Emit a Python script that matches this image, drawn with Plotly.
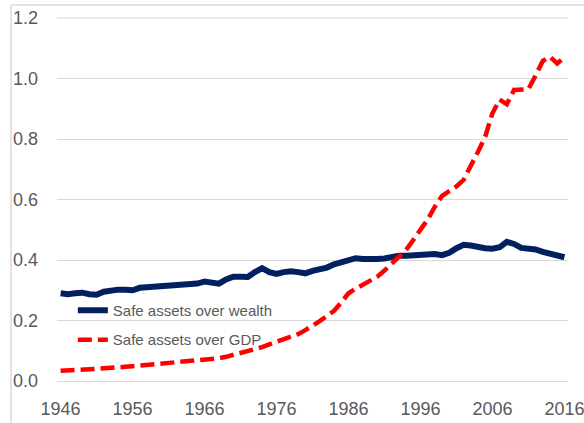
import plotly.graph_objects as go

years = list(range(1946, 2017))

safe_over_wealth = [
    0.290, 0.287, 0.290, 0.292, 0.287, 0.285, 0.295, 0.300, 0.302, 0.302,
    0.300, 0.308, 0.310, 0.310, 0.315, 0.314, 0.318, 0.322, 0.322, 0.322,
    0.329, 0.325, 0.322, 0.336, 0.345, 0.345, 0.344, 0.360, 0.373, 0.360,
    0.354, 0.360, 0.363, 0.360, 0.356, 0.364, 0.369, 0.375, 0.386, 0.393,
    0.400, 0.406, 0.403, 0.402, 0.403, 0.405, 0.410, 0.414, 0.414, 0.416,
    0.420, 0.420, 0.420, 0.416, 0.424, 0.439, 0.450, 0.448, 0.442, 0.439,
    0.437, 0.442, 0.460, 0.453, 0.440, 0.438, 0.435, 0.427, 0.421, 0.415,
    0.409,
]

safe_over_gdp = [
    0.034, 0.036, 0.037, 0.038, 0.039, 0.040, 0.041, 0.043, 0.045, 0.047,
    0.049, 0.051, 0.053, 0.055, 0.057, 0.059, 0.061, 0.063, 0.064, 0.066,
    0.068, 0.071, 0.075, 0.080, 0.086, 0.091, 0.097, 0.104, 0.112, 0.121,
    0.129, 0.137, 0.146, 0.155, 0.168, 0.182, 0.198, 0.215, 0.232, 0.260,
    0.290, 0.305, 0.318, 0.332, 0.345, 0.365, 0.389, 0.412, 0.433, 0.466,
    0.500, 0.534, 0.576, 0.612, 0.628, 0.643, 0.665, 0.708, 0.758, 0.808,
    0.885, 0.930, 0.915, 0.962, 0.963, 0.965, 1.010, 1.058, 1.072, 1.050,
    1.070,
]

x_ticks = [1946, 1956, 1966, 1976, 1986, 1996, 2006, 2016]
y_ticks = [0.0, 0.2, 0.4, 0.6, 0.8, 1.0, 1.2]
y_tick_labels = ["0.0", "0.2", "0.4", "0.6", "0.8", "1.0", "1.2"]

fig = go.Figure()
fig.add_trace(go.Scatter(
    x=years, y=safe_over_wealth, mode="lines", name="Safe assets over wealth",
    line=dict(color="#002060", width=6), legendgroup="a",
))
fig.add_trace(go.Scatter(
    x=years, y=safe_over_gdp, mode="lines", name="Safe assets over GDP",
    line=dict(color="#FF0000", width=4.5, dash="14px,6px"), legendgroup="b",
))

grid = "#D9D9D9"
tick_font = dict(family="Liberation Sans, Arial, sans-serif", size=18, color="#595959")

fig.update_layout(
    width=584, height=423,
    margin=dict(l=57, r=16, t=18, b=42, autoexpand=False),
    paper_bgcolor="white", plot_bgcolor="white",
    showlegend=True,
    legend=dict(
        x=0.031, y=0.24, xanchor="left", yanchor="top",
        bgcolor="rgba(0,0,0,0)",
        font=dict(family="Liberation Sans, Arial, sans-serif", size=15, color="#595959"),
        tracegroupgap=7, itemwidth=30,
    ),
    xaxis=dict(
        range=[1945.5, 2016.5], tickvals=x_ticks, ticktext=[str(v) for v in x_ticks],
        showgrid=False, zeroline=False, showline=False, ticks="",
        tickfont=tick_font, ticklabelstandoff=15, automargin=False,
        ticklabeloverflow="allow",
    ),
    yaxis=dict(
        range=[0, 1.2], tickvals=y_ticks, ticktext=y_tick_labels,
        showgrid=True, gridcolor=grid, gridwidth=1,
        zeroline=True, zerolinecolor=grid, zerolinewidth=1,
        showline=False, ticks="", tickfont=tick_font, ticklabelstandoff=18,
        automargin=False, ticklabeloverflow="allow",
    ),
    shapes=[
        dict(type="line", xref="paper", yref="paper", x0=-0.09, x1=-0.09, y0=1.036, y1=-0.2,
             line=dict(color=grid, width=1.5), layer="below"),
        dict(type="line", xref="paper", yref="paper", x0=-0.09, x1=1.1, y0=1.036, y1=1.036,
             line=dict(color=grid, width=1.5), layer="below"),
        dict(type="line", xref="paper", yref="paper", x0=0, x1=1, y0=1, y1=1,
             line=dict(color=grid, width=1), layer="below"),
    ],
)

fig.write_html(
    "out.html",
    config={"displayModeBar": False},
    post_script="document.body.style.margin='0';document.body.style.overflow='hidden';",
)
